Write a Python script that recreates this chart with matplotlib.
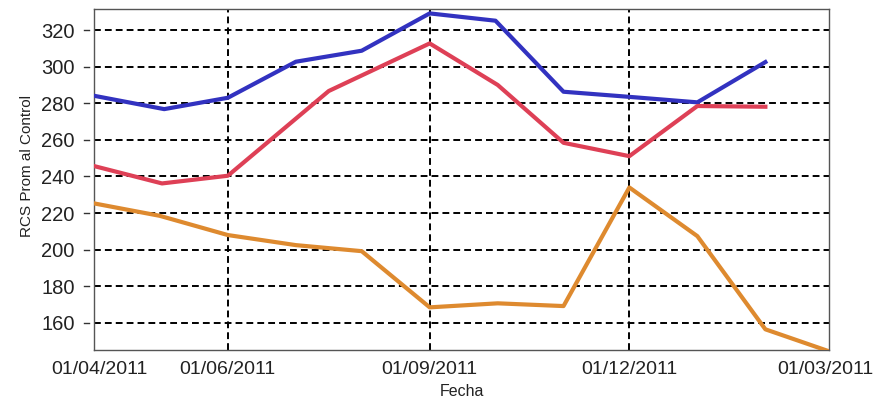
import matplotlib
matplotlib.use("Agg")
import matplotlib.pyplot as plt
import matplotlib.dates as mdates
import matplotlib.transforms as mtransforms

# Monthly average RCS per series
blue_dates = ["2011-04-01", "2011-05-03", "2011-06-01", "2011-07-02", "2011-08-01",
              "2011-09-01", "2011-10-01", "2011-11-01", "2011-12-01", "2012-01-01",
              "2012-02-01"]
blue_vals = [284.1, 276.8, 283.0, 302.7, 308.7, 329.1, 325.1, 286.3, 283.5, 280.5, 302.5]

red_dates = ["2011-04-01", "2011-05-02", "2011-06-01", "2011-07-17", "2011-09-01",
             "2011-10-02", "2011-11-01", "2011-12-01", "2012-01-01", "2012-02-01"]
red_vals = [245.7, 236.2, 240.4, 286.7, 312.7, 290.0, 258.4, 251.1, 278.5, 278.1]

orange_dates = ["2011-04-01", "2011-05-01", "2011-06-01", "2011-07-02", "2011-08-01",
                "2011-09-01", "2011-10-02", "2011-11-01", "2011-12-01", "2012-01-01",
                "2012-02-01", "2012-03-01"]
orange_vals = [225.3, 218.5, 208.0, 202.5, 199.2, 168.5, 170.7, 169.2, 234.0, 207.4,
               156.5, 144.5]

tick_dates = ["2011-04-01", "2011-06-01", "2011-09-01", "2011-12-01", "2012-03-01"]
tick_labels = ["01/04/2011", "01/06/2011", "01/09/2011", "01/12/2011", "01/03/2011"]
y_ticks = [160, 180, 200, 220, 240, 260, 280, 300, 320]

plt.rcParams["font.family"] = ["Liberation Sans", "DejaVu Sans"]
TEXT = "#222222"


def to_num(ds):
    return mdates.datestr2num(ds)


W, H = 874, 399
L, R, T, B = 94, 829, 9, 350
fig = plt.figure(figsize=(W / 100, H / 100), dpi=100)
ax = fig.add_axes([L / W, 1 - B / H, (R - L) / W, (B - T) / H])

ax.plot(to_num(blue_dates), blue_vals, color="#3232C0", lw=3.0, zorder=3)
ax.plot(to_num(red_dates), red_vals, color="#DE4056", lw=3.0, zorder=3)
ax.plot(to_num(orange_dates), orange_vals, color="#DE8A2F", lw=3.0, zorder=3)

ax.set_xlim(to_num("2011-04-01"), to_num("2012-03-01"))
ax.set_ylim(145.2, 331.5)

xt = to_num(tick_dates)
ax.set_xticks(xt)
ax.set_xticklabels(tick_labels)
ax.set_yticks(y_ticks)

# dashed grid: horizontal at every y tick, vertical at the inner date ticks
dash = (0, (3.5, 2.1))
for y in y_ticks:
    ax.axhline(y, color="black", lw=1.4, ls=dash, zorder=1)
for x in xt[1:-1]:
    ax.axvline(x, color="black", lw=1.4, ls=dash, zorder=1)

# short detached tick marks left of the y axis
aw = R - L
blend = mtransforms.blended_transform_factory(ax.transAxes, ax.transData)
for y in y_ticks:
    ax.plot([-10 / aw, -5.5 / aw], [y, y], color="#333333", lw=1.0,
            transform=blend, clip_on=False)

ax.tick_params(axis="y", length=0, pad=14, labelsize=14.5, colors=TEXT)
ax.tick_params(axis="x", length=0, pad=8, labelsize=14, colors=TEXT)

# keep the outer date labels inside the figure
labels = ax.get_xticklabels()
for lab, dx in ((labels[0], 5), (labels[-1], -4)):
    lab.set_transform(lab.get_transform() +
                      mtransforms.ScaledTranslation(dx / 100, 0, fig.dpi_scale_trans))

for s in ax.spines.values():
    s.set_color("#555555")
    s.set_linewidth(1.0)

ax.set_xlabel("Fecha", fontsize=11.5, color=TEXT)
ax.xaxis.set_label_coords(0.5, -(384 - B) / (B - T))
ax.set_ylabel("RCS Prom al Control", fontsize=11, color=TEXT)
ax.yaxis.set_label_coords(-(L - 34) / aw, (B - 166) / (B - T))

fig.savefig("out.png", dpi=100)
